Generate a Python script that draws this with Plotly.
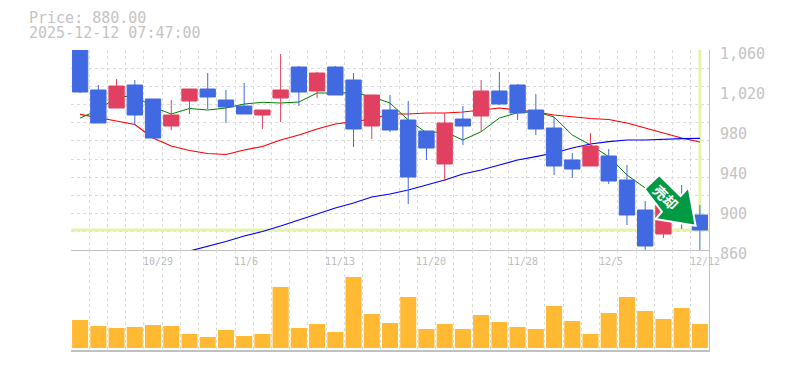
import plotly.graph_objects as go

PRICE_TEXT = "Price: 880.00"
TIME_TEXT = "2025-12-12 07:47:00"
dates = ["10/23","10/24","10/27","10/28","10/29","10/30","10/31","11/4","11/5","11/6","11/7","11/10","11/11","11/12","11/13","11/14","11/17","11/18","11/19","11/20","11/21","11/25","11/26","11/27","11/28","12/1","12/2","12/3","12/4","12/5","12/8","12/9","12/10","12/11","12/12"]
labelled = ["10/29","11/6","11/13","11/20","11/28","12/5","12/12"]
opens  = [1064,1020,1002,1025,1011,984,1009,1021,1010,1004,995,1012,1043,1019,1043,1030,984,1000,990,979,946,991,994,1019,1025,1000,982,950,944,954,930,900,876,915,895]
closes = [1018,987,1024,995,972,995,1021,1013,1003,996,1000,1020,1018,1037,1015,981,1015,980,933,962,987,984,1019,1006,997,981,944,941,964,929,895,864,905,895,880]
highs  = [1066,1025,1031,1030,1011,1010,1021,1037,1020,1027,1000,1056,1044,1038,1044,1037,1015,1015,1009,979,997,1004,1030,1038,1026,1016,993,957,977,961,945,909,905,925,905]
lows   = [1017,987,1002,985,972,980,996,1001,987,996,981,988,1004,1012,1015,963,971,978,906,950,929,965,979,1005,990,975,935,932,944,926,885,859,872,881,860]
ma_short = [992,1000,1013,1014,1003,996,1001.5,1000,1002,1006,1007.7,1007,1008,1017,1017,1017.3,1013.3,1007,990,977.3,978.3,970,978.3,992,997.3,998.3,993,975,965,953.3,935,922,907,896,887]
ma_mid = [995.7,992,989,985.5,972,964,959.5,956.5,955.5,960,963.5,970,975,981,986,988.3,991,996,996,997,997,998,1000,1002,1000,998,995,993,991.5,990.5,987,982,977,972,968]
ma_long = [None,None,None,None,None,None,859,863.5,868.5,874,878.5,884,890,896,902,907,913,916,920,925,930,936,940,945,950,953.3,957,962,966,968.3,970,970,971,971.3,971.7]
volumes = [28,22,20,21,23,22,14,11,18,12,14,61,20,24,16,71,34,25,51,19,24,19,33,26,21,19,42,27,14,35,51,37,29,40,24]
price_ticks = [860,900,940,980,1020,1060]
last_price = 880
badge_text = "売却"

UP = "#E24060"; DOWN = "#4169E1"; GRID = "#DCDCDC"; AXIS = "#C0C0C0"; TEXT = "#C4C4C4"; MARK = "#E5F3AC"
FONT = "DejaVu Sans Mono"
n = len(dates)
xs = list(range(n))
grid_x = [i - 0.5 for i in range(n + 1)]
grid_y = [860 + i * 200 / 11 for i in range(12)]

fig = go.Figure()
fig.add_trace(go.Bar(x=xs, y=volumes, marker=dict(color="#FFB933", line_width=0), xaxis="x2", yaxis="y2", showlegend=False))
for vals, col, w in [(ma_short, "#008000", 1), (ma_mid, "#FF0000", 1.2), (ma_long, "#0000FF", 1.2)]:
    fig.add_trace(go.Scatter(x=xs, y=vals, mode="lines", line=dict(color=col, width=w), xaxis="x", yaxis="y", showlegend=False, hoverinfo="skip"))
# Candles sit on an overlaying axis so that they are painted over the average lines.
fig.add_trace(go.Candlestick(x=xs, open=opens, high=highs, low=lows, close=closes, xaxis="x", yaxis="y3",
    whiskerwidth=0, showlegend=False,
    increasing=dict(line=dict(color=UP, width=1), fillcolor=UP),
    decreasing=dict(line=dict(color=DOWN, width=1), fillcolor=DOWN)))

axis_x = dict(range=[-0.5, n - 0.5], tickvals=grid_x, showticklabels=False, ticks="", showgrid=True, gridcolor=GRID,
              griddash="3px,3px", gridwidth=1, zeroline=False, automargin=False)
fig.update_layout(
    width=777, height=362, margin=dict(l=63, r=76, t=42, b=20, pad=0, autoexpand=False), autosize=False,
    paper_bgcolor="white", plot_bgcolor="white", boxgap=0.16, boxgroupgap=0, bargap=0.12, dragmode=False,
    xaxis=dict(axis_x, domain=[0, 1], anchor="y", rangeslider=dict(visible=False), showline=True, linecolor=AXIS, linewidth=1),
    xaxis2=dict(axis_x, domain=[0, 1], anchor="y2", showline=True, linecolor=AXIS, linewidth=2),
    yaxis=dict(domain=[1/3, 1], range=[860, 1060], side="right", anchor="x", tickvals=price_ticks, tickformat=",d",
               showgrid=False, zeroline=False, ticks="", showline=True, linecolor=AXIS, linewidth=1, automargin=False,
               tickfont=dict(family=FONT, size=15, color=TEXT), ticklabelstandoff=7, ticklabelshift=4,
               minor=dict(tickvals=grid_y, showgrid=True, gridcolor=GRID, griddash="3px,3px", gridwidth=1, ticks="")),
    yaxis2=dict(domain=[0, 1/3], range=[-2, 98], side="right", anchor="x2", showticklabels=False, showgrid=False,
                zeroline=False, ticks="", showline=True, linecolor=AXIS, linewidth=1, automargin=False),
    yaxis3=dict(domain=[1/3, 1], range=[860, 1060], overlaying="y", side="right", anchor="x", showticklabels=False,
                showgrid=False, zeroline=False, ticks="", showline=False, automargin=False),
    shapes=[
        dict(type="line", xref="x", yref="y", x0=n - 1, x1=n - 1, y0=last_price, y1=1060, line=dict(color=MARK, width=3), layer="between"),
        dict(type="line", xref="x", yref="y", x0=-0.5, x1=n - 0.5, y0=last_price, y1=last_price, line=dict(color=MARK, width=3), layer="between"),
        dict(type="path", xref="x", yref="y", xsizemode="pixel", ysizemode="pixel", xanchor=n - 1, yanchor=last_price,
             path="M -40.7 55 L -19.3 34 L -11.3 42.7 L -4.3 4.3 L -44.3 11 L -38 18.3 L -55.3 41 Z", fillcolor="#009944",
             line=dict(color="white", width=2), layer="above"),
    ],
    annotations=[
        dict(text=PRICE_TEXT, xref="paper", yref="paper", x=-63/638, y=1, xanchor="left", yanchor="middle", showarrow=False, xshift=19, yshift=32, font=dict(family=FONT, size=15, color=TEXT)),
        dict(text=TIME_TEXT, xref="paper", yref="paper", x=-63/638, y=1, xanchor="left", yanchor="middle", showarrow=False, xshift=19, yshift=17, font=dict(family=FONT, size=15, color=TEXT)),
        dict(text="<b>" + badge_text + "</b>", xref="x", yref="y", x=n - 1, y=last_price, xshift=-34, yshift=33, showarrow=False, textangle=45, font=dict(family="Noto Sans CJK JP", size=14, color="white")),
    ] + [
        dict(text=d, xref="x", yref="paper", x=dates.index(d), y=1/3, xanchor="left", yanchor="top", xshift=-12, yshift=-4, showarrow=False, font=dict(family=FONT, size=10, color="#BDBDBD"))
        for d in labelled
    ],
)
fig.write_html("out.html")
